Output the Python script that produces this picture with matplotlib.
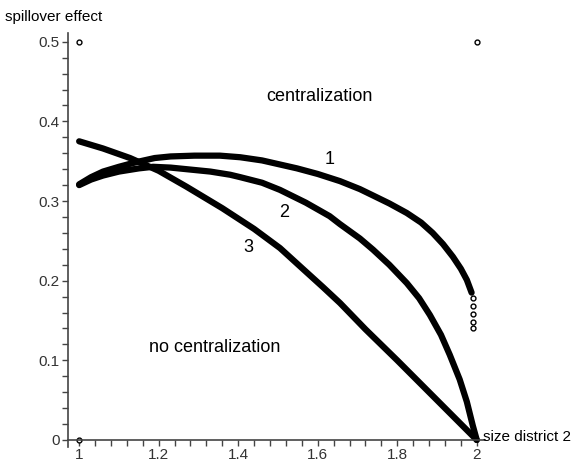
import matplotlib.pyplot as plt
from matplotlib.ticker import MultipleLocator

plt.rcParams["font.family"] = ["Liberation Sans", "DejaVu Sans"]

# curve 1
x1 = [1.0, 1.03, 1.06, 1.1, 1.145, 1.19, 1.23, 1.29, 1.354, 1.405, 1.46, 1.548, 1.6,
      1.656, 1.706, 1.739, 1.78, 1.824, 1.86, 1.889, 1.915, 1.94, 1.96, 1.975, 1.987]
y1 = [0.321, 0.330, 0.337, 0.343, 0.349, 0.354, 0.356, 0.357, 0.357, 0.355, 0.351,
      0.341, 0.334, 0.325, 0.315, 0.307, 0.297, 0.285, 0.273, 0.260, 0.246, 0.230,
      0.215, 0.201, 0.185]
# curve 2
x2 = [1.0, 1.03, 1.06, 1.1, 1.15, 1.186, 1.23, 1.27, 1.33, 1.38, 1.405, 1.46, 1.505,
      1.57, 1.63, 1.656, 1.706, 1.739, 1.78, 1.824, 1.855, 1.882, 1.91, 1.932, 1.957,
      1.975, 1.99, 2.0]
y2 = [0.320, 0.327, 0.332, 0.337, 0.341, 0.343, 0.342, 0.340, 0.337, 0.333, 0.330,
      0.323, 0.314, 0.298, 0.281, 0.271, 0.253, 0.239, 0.220, 0.197, 0.178, 0.157,
      0.132, 0.107, 0.076, 0.048, 0.018, 0.0]
# curve 3
x3 = [1.0, 1.06, 1.128, 1.2, 1.27, 1.36, 1.44, 1.505, 1.56, 1.613, 1.656, 1.72,
      1.8, 1.9, 2.0]
y3 = [0.375, 0.366, 0.354, 0.338, 0.318, 0.291, 0.265, 0.241, 0.216, 0.192,
      0.172, 0.139, 0.100, 0.050, 0.0]

# loose points drawn as hollow circles
px = [1.0, 2.0, 1.0, 1.99, 1.99, 1.99, 1.99, 1.99]
py = [0.5, 0.5, 0.0, 0.178, 0.168, 0.158, 0.148, 0.140]

fig = plt.figure(figsize=(5.75, 4.68), dpi=100)
ax = fig.add_axes([0.1183, 0.0449, 0.7247, 0.8846])

for xs, ys in [(x1, y1), (x2, y2), (x3, y3)]:
    ax.plot(xs, ys, color="black", lw=4.5, solid_capstyle="round", solid_joinstyle="round")
ax.plot(px, py, "o", ms=3.5, mfc="white", mec="black", mew=1)

ax.text(1.605, 0.431, "centralization", ha="center", va="center", fontsize=13)
ax.text(1.342, 0.116, "no centralization", ha="center", va="center", fontsize=13)
ax.text(1.63, 0.352, "1", ha="center", va="center", fontsize=13)
ax.text(1.515, 0.285, "2", ha="center", va="center", fontsize=13)
ax.text(1.425, 0.242, "3", ha="center", va="center", fontsize=13)

ax.set_xlim(0.972, 2.02)
ax.set_ylim(-0.0088, 0.511)
ax.spines["top"].set_visible(False)
ax.spines["right"].set_visible(False)
ax.spines["bottom"].set_position(("data", 0))
for s in ["left", "bottom"]:
    ax.spines[s].set_color("#444444")
    ax.spines[s].set_linewidth(1.2)

ax.xaxis.set_minor_locator(MultipleLocator(0.04))
ax.yaxis.set_minor_locator(MultipleLocator(0.02))
ax.set_xticks([1, 1.2, 1.4, 1.6, 1.8, 2])
ax.set_xticklabels(["1", "1.2", "1.4", "1.6", "1.8", "2"])
ax.set_yticks([0, 0.1, 0.2, 0.3, 0.4, 0.5])
ax.set_yticklabels(["0", "0.1", "0.2", "0.3", "0.4", "0.5"])
ax.tick_params(which="both", direction="out", length=4, width=1, color="#444444",
               labelsize=11, labelcolor="#333333", pad=2)

fig.text(5 / 575, 1 - 17 / 468, "spillover effect", ha="left", va="center", fontsize=11)
fig.text(483 / 575, 1 - 437 / 468, "size district 2", ha="left", va="center", fontsize=11)

fig.savefig("out.png", dpi=100)
